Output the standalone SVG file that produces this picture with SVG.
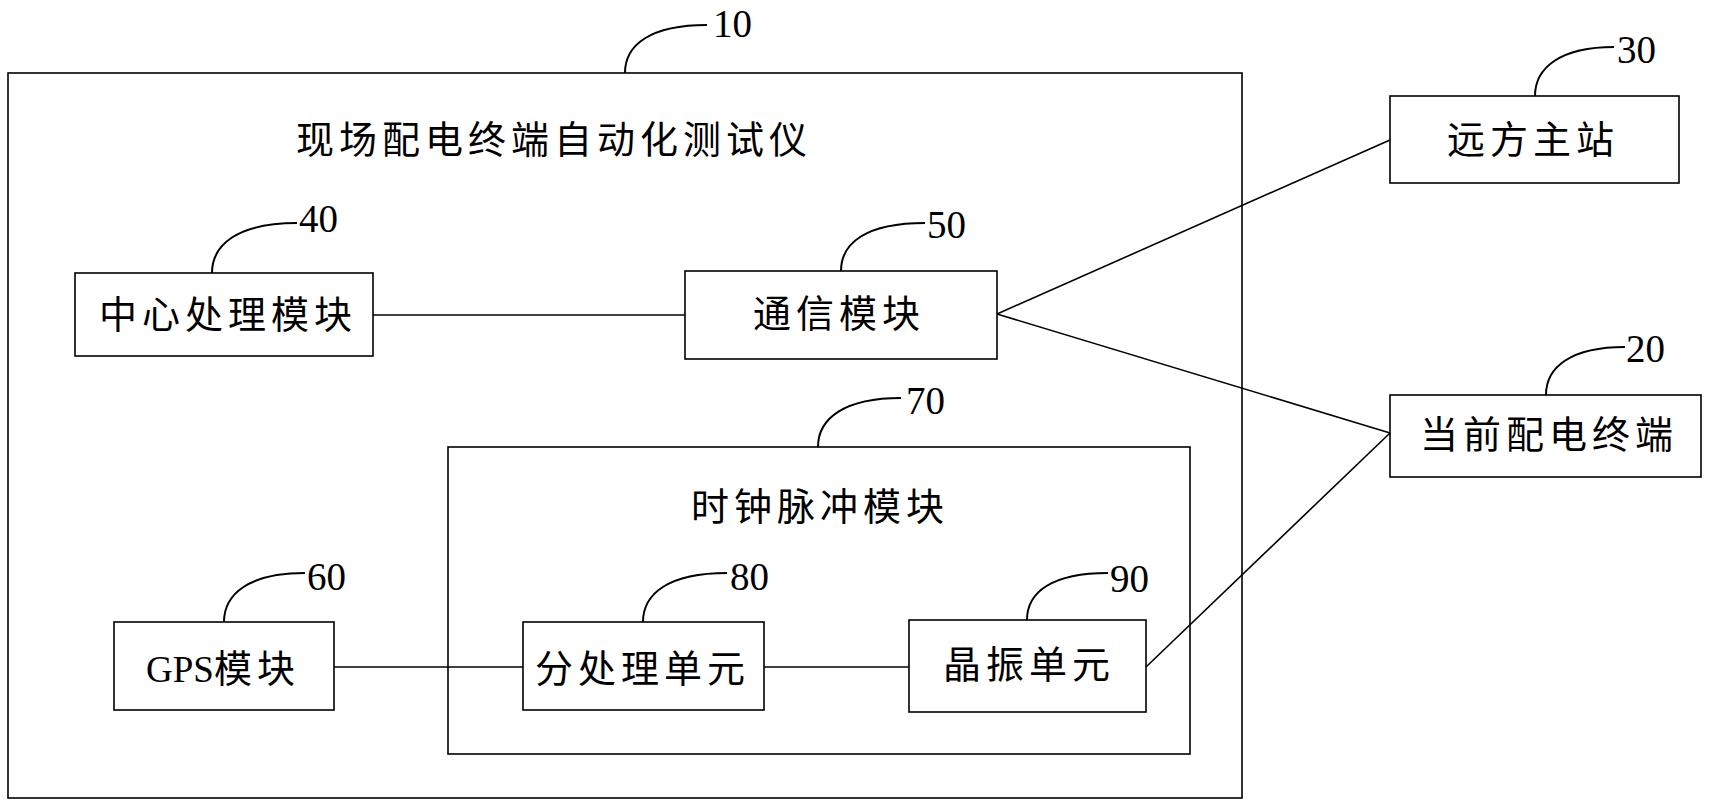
<svg xmlns="http://www.w3.org/2000/svg" width="1709" height="807" viewBox="0 0 1709 807">
<style>
.box{fill:none;stroke:#000;stroke-width:1.6}
.ldr{fill:none;stroke:#000;stroke-width:2}
.con{fill:none;stroke:#000;stroke-width:1.6}
.lbl{font-family:"Liberation Serif","Noto Sans CJK SC",serif;font-size:38px;letter-spacing:5px;fill:#000}
.num{font-family:"Liberation Serif",serif;font-size:39px;fill:#000}
</style>
<rect width="1709" height="807" fill="#fff"/>
<g id="node10">
<rect class="box" x="8" y="73" width="1234" height="725"/>
<path class="ldr" d="M625,73 C625,45 650,25 707,25"/>
<text class="num" x="713" y="37">10</text>
<text class="lbl" x="296" y="153">现场配电终端自动化测试仪</text>
</g>
<g id="node40">
<rect class="box" x="75" y="273" width="298" height="83"/>
<path class="ldr" d="M212,273 C212,245 237,223 297,223"/>
<text class="num" x="299" y="232">40</text>
<text class="lbl" x="99" y="328">中心处理模块</text>
</g>
<g id="node50">
<rect class="box" x="685" y="271" width="312" height="88"/>
<path class="ldr" d="M841,271 C841,243 866,223 925,223"/>
<text class="num" x="927" y="238">50</text>
<text class="lbl" x="753" y="327">通信模块</text>
</g>
<g id="node30">
<rect class="box" x="1390" y="96" width="289" height="87"/>
<path class="ldr" d="M1535,96 C1535,68 1560,47 1614,47"/>
<text class="num" x="1617" y="63">30</text>
<text class="lbl" x="1447" y="153">远方主站</text>
</g>
<g id="node20">
<rect class="box" x="1390" y="395" width="311" height="82"/>
<path class="ldr" d="M1546,395 C1546,367 1571,347 1625,347"/>
<text class="num" x="1626" y="362">20</text>
<text class="lbl" x="1420" y="448">当前配电终端</text>
</g>
<g id="node70">
<rect class="box" x="448" y="447" width="742" height="307"/>
<path class="ldr" d="M818,447 C818,418 845,398 901,398"/>
<text class="num" x="906" y="414">70</text>
<text class="lbl" x="691" y="520">时钟脉冲模块</text>
</g>
<g id="node60">
<rect class="box" x="114" y="622" width="220" height="88"/>
<path class="ldr" d="M224,622 C224,594 249,573 305,573"/>
<text class="num" x="307" y="590">60</text>
<text class="lbl" x="146" y="682"><tspan letter-spacing="0" font-size="37">GPS</tspan>模块</text>
</g>
<g id="node80">
<rect class="box" x="523" y="622" width="241" height="88"/>
<path class="ldr" d="M643,622 C643,594 668,573 727,573"/>
<text class="num" x="730" y="590">80</text>
<text class="lbl" x="535" y="682">分处理单元</text>
</g>
<g id="node90">
<rect class="box" x="909" y="620" width="237" height="92"/>
<path class="ldr" d="M1027,620 C1027,592 1052,573 1108,573"/>
<text class="num" x="1110" y="592">90</text>
<text class="lbl" x="943" y="678">晶振单元</text>
</g>
<g id="connectors">
<line class="con" x1="373" y1="315" x2="685" y2="315"/>
<line class="con" x1="997" y1="314" x2="1390" y2="140"/>
<line class="con" x1="997" y1="314" x2="1390" y2="433"/>
<line class="con" x1="334" y1="667" x2="523" y2="667"/>
<line class="con" x1="764" y1="667" x2="909" y2="667"/>
<line class="con" x1="1146" y1="667" x2="1390" y2="433"/>
</g>
</svg>
